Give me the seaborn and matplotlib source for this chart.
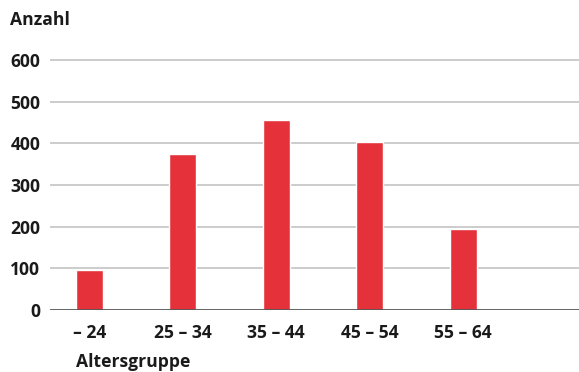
import matplotlib
matplotlib.use("Agg")
import matplotlib.pyplot as plt
import pandas as pd
import seaborn as sns

altersgruppe = ["– 24", "25 – 34", "35 – 44", "45 – 54", "55 – 64"]
anzahl = [97, 375, 455, 404, 195]
y_ticks = [0, 100, 200, 300, 400, 500, 600]

df = pd.DataFrame({"Altersgruppe": altersgruppe, "Anzahl": anzahl})

sns.set_theme(style="white")
plt.rcParams["font.family"] = ["Open Sans", "DejaVu Sans"]

fs = 12.6
fig = plt.figure(figsize=(5.79, 3.72), dpi=100)
ax = fig.add_axes([50 / 579, 62 / 372, 529 / 579, (310 - 53.7) / 372])

sns.barplot(data=df, x="Altersgruppe", y="Anzahl", color="#e5323a",
            width=0.29, saturation=1, ax=ax, zorder=3)

ax.set_ylim(0, 615)
ax.set_xlim(-0.42, 5.24)
ax.set_yticks(y_ticks)
for t in y_ticks[1:]:
    ax.axhline(t, color="#c8c8c8", lw=1.3, zorder=1)
ax.axhline(0, color="#555555", lw=2, zorder=4)

for s in ax.spines.values():
    s.set_visible(False)
ax.tick_params(axis="both", length=0, labelsize=fs, colors="#1a1a1a")
ax.tick_params(axis="y", pad=7)
ax.tick_params(axis="x", pad=10)
for lbl in ax.get_xticklabels() + ax.get_yticklabels():
    lbl.set_fontweight("bold")

ax.set_xlabel("")
ax.set_ylabel("")
fig.text(10 / 579, 1 - 20 / 372, "Anzahl", fontsize=fs, fontweight="bold",
         color="#1a1a1a", ha="left", va="center")
fig.text(76 / 579, 1 - 362 / 372, "Altersgruppe", fontsize=fs, fontweight="bold",
         color="#1a1a1a", ha="left", va="center")

fig.savefig("out.png", dpi=100)
